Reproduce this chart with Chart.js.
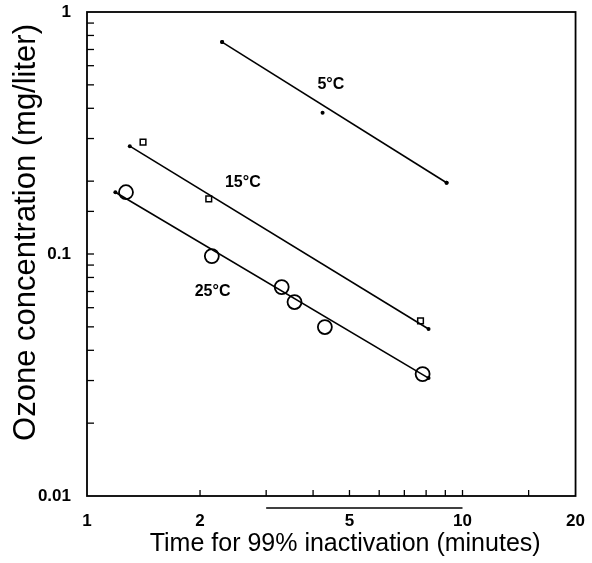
<!DOCTYPE html>
<html>
<head>
<meta charset="utf-8">
<script src="https://cdn.jsdelivr.net/npm/chart.js@4"></script>
<style>
  body { margin: 0; background: #fff; }
  #wrap { width: 592px; height: 563px; }
</style>
</head>
<body>
<div id="wrap"><canvas id="myChart"></canvas></div>
<script>
const ctx = document.getElementById('myChart');

// data (time in minutes, ozone in mg/liter)
var t5 = [2.29, 4.24, 9.07];
var c5 = [0.751, 0.383, 0.197];
var t15 = [1.41, 2.11, 7.73];
var c15 = [0.290, 0.169, 0.0529];
var t25 = [1.27, 2.15, 3.30, 3.57, 4.30, 7.83];
var c25 = [0.180, 0.098, 0.073, 0.0633, 0.0499, 0.0319];

// fitted lines, start and end
var fit5t = [2.29, 9.07];
var fit5c = [0.751, 0.197];
var fit15t = [1.30, 8.12];
var fit15c = [0.279, 0.049];
var fit25t = [1.19, 8.12];
var fit25c = [0.180, 0.0307];

var xLabels = [1, 2, 5, 10, 20];
var yLabels = [0.01, 0.1, 1];

var curveNames = ['5°C', '15°C', '25°C'];
var nameT = [4.46, 2.60, 2.16];
var nameC = [0.50, 0.197, 0.0697];

var font = '"Liberation Sans", Arial, sans-serif';

function pts(xs, ys) {
    return xs.map(function (x, i) { return { x: x, y: ys[i] }; });
}

function fitLine(xs, ys) {
    return {
        type: 'line',
        data: pts(xs, ys),
        borderColor: '#000',
        borderWidth: 1.6,
        pointRadius: 2,
        pointBackgroundColor: '#000',
        pointBorderWidth: 0,
        showLine: true
    };
}

function isLabel(list, v) {
    return list.some(function (l) { return Math.abs(l - v) / l < 1e-6; });
}

const boxAndTicks = {
    id: 'boxAndTicks',
    afterDraw(chart) {
        const c = chart.ctx;
        const a = chart.chartArea;
        const xs = chart.scales.x;
        const ys = chart.scales.y;
        c.save();
        c.strokeStyle = '#000';
        c.lineWidth = 1.8;
        c.strokeRect(a.left, a.top, a.right - a.left, a.bottom - a.top);
        c.lineWidth = 1.3;
        xs.ticks.forEach(function (t) {
            if (t.value <= 1 || t.value >= 20) return;
            const px = xs.getPixelForValue(t.value);
            c.beginPath();
            c.moveTo(px, a.bottom);
            c.lineTo(px, a.bottom - 6);
            c.stroke();
        });
        ys.ticks.forEach(function (t) {
            if (t.value <= 0.01 || t.value >= 1) return;
            const py = ys.getPixelForValue(t.value);
            c.beginPath();
            c.moveTo(a.left, py);
            c.lineTo(a.left + 7, py);
            c.stroke();
        });
        // the rule under the axis, between 3 and 10 minutes
        c.lineWidth = 1.6;
        c.beginPath();
        c.moveTo(xs.getPixelForValue(3), a.bottom + 12);
        c.lineTo(xs.getPixelForValue(10), a.bottom + 12);
        c.stroke();

        c.fillStyle = '#000';
        c.font = 'bold 16px ' + font;
        c.textAlign = 'center';
        c.textBaseline = 'middle';
        curveNames.forEach(function (n, i) {
            c.fillText(n, xs.getPixelForValue(nameT[i]), ys.getPixelForValue(nameC[i]));
        });
        c.restore();
    }
};

new Chart(ctx, {
    type: 'scatter',
    data: {
        datasets: [
            fitLine(fit5t, fit5c),
            fitLine(fit15t, fit15c),
            fitLine(fit25t, fit25c),
            {
                data: pts(t5, c5),
                pointStyle: 'circle',
                pointRadius: 2,
                pointBackgroundColor: '#000',
                pointBorderWidth: 0
            },
            {
                data: pts(t15, c15),
                pointStyle: 'rect',
                pointRadius: 4,
                pointBackgroundColor: '#fff',
                pointBorderColor: '#000',
                pointBorderWidth: 1.5
            },
            {
                data: pts(t25, c25),
                pointStyle: 'circle',
                pointRadius: 7,
                pointBackgroundColor: '#fff',
                pointBorderColor: '#000',
                pointBorderWidth: 1.8
            }
        ]
    },
    options: {
        responsive: true,
        maintainAspectRatio: false,
        animation: false,
        layout: { padding: { left: 0, top: 12, right: 14, bottom: 4 } },
        plugins: {
            legend: { display: false },
            tooltip: { enabled: false }
        },
        scales: {
            x: {
                type: 'logarithmic',
                min: 1,
                max: 20,
                grid: { display: false },
                border: { display: false },
                afterFit: function (s) { s.height = 63; },
                ticks: {
                    autoSkip: false,
                    maxRotation: 0,
                    padding: 7,
                    color: '#000',
                    font: { family: font, size: 17, weight: 'bold' },
                    callback: function (v) { return isLabel(xLabels, v) ? String(v) : ''; }
                },
                title: {
                    display: true,
                    text: '    Time for 99% inactivation (minutes)',
                    color: '#000',
                    padding: { top: 0, bottom: 0 },
                    font: { family: font, size: 25 }
                }
            },
            y: {
                type: 'logarithmic',
                min: 0.01,
                max: 1,
                grid: { display: false },
                border: { display: false },
                afterFit: function (s) {
                    s.width = 87;
                    s.paddingTop = 0;
                    s.paddingBottom = 0;
                },
                ticks: {
                    autoSkip: false,
                    padding: 8,
                    color: '#000',
                    font: { family: font, size: 17, weight: 'bold' },
                    callback: function (v) { return isLabel(yLabels, v) ? String(v) : ''; }
                },
                title: {
                    display: true,
                    text: '     Ozone concentration (mg/liter)',
                    color: '#000',
                    padding: { top: 8, bottom: 0 },
                    font: { family: font, size: 31 }
                }
            }
        }
    },
    plugins: [boxAndTicks]
});
</script>
</body>
</html>
